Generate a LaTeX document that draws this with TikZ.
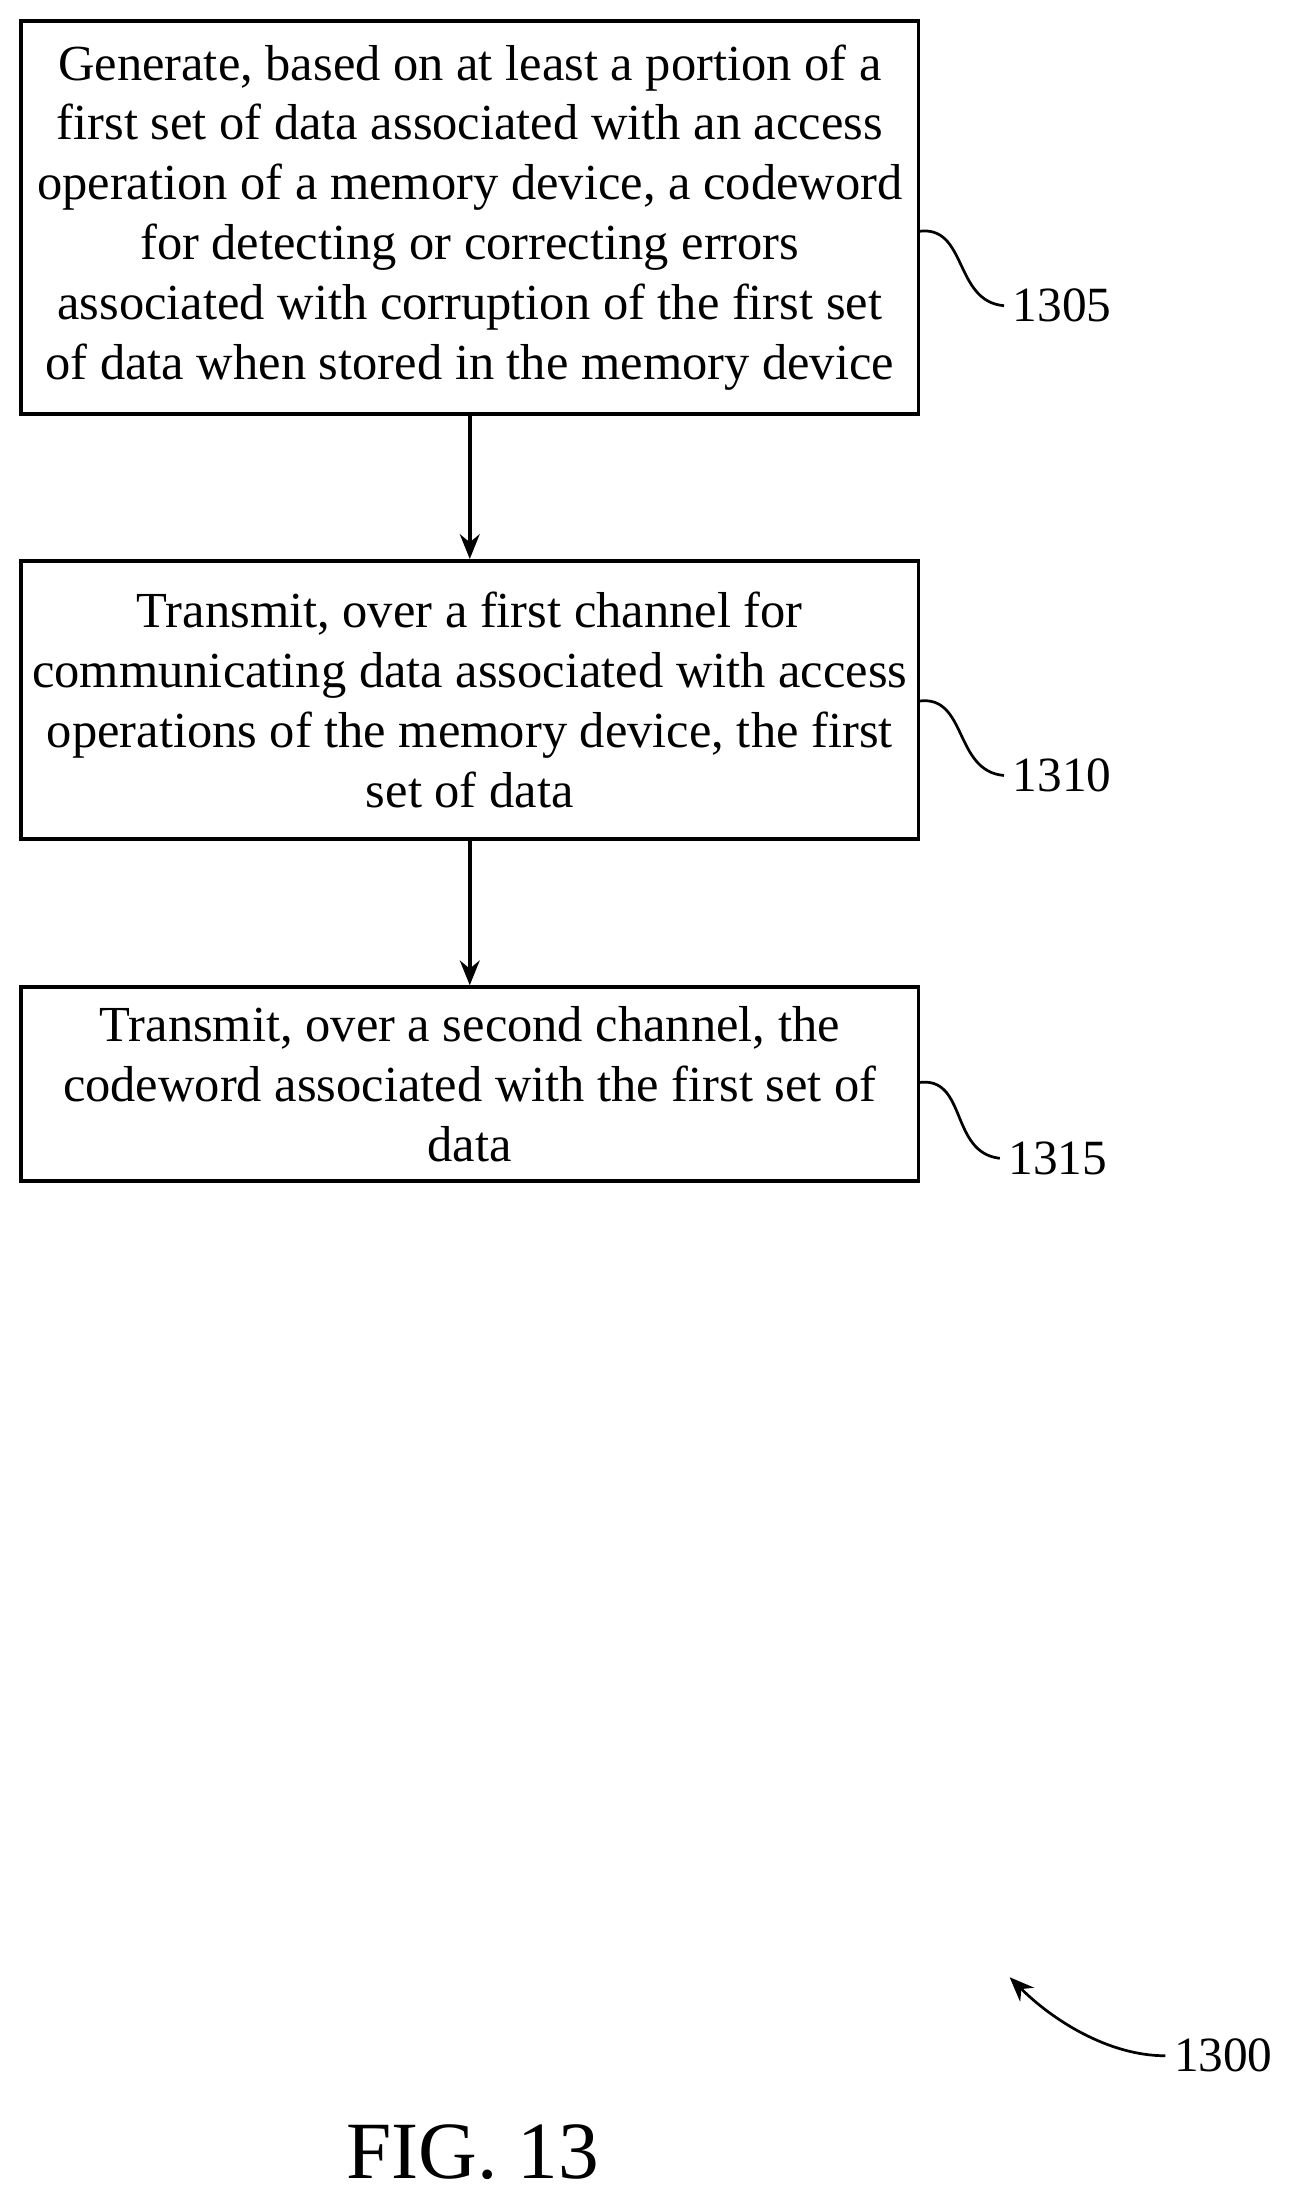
\documentclass[tikz,border=0pt]{standalone}
\usepackage{fontspec}
\setmainfont{Liberation Serif}
\usetikzlibrary{arrows.meta}
\begin{document}
\begin{tikzpicture}[x=0.02cm,y=-0.02cm,
  box/.style={draw,line width=1.6pt,inner sep=0pt},
  txt/.style={align=center,font=\fontsize{20.5}{24.3}\selectfont},
  lab/.style={font=\fontsize{20}{24}\selectfont,anchor=west},
  arr/.style={line width=1.6pt,-{Stealth[length=10pt,width=8pt]}},
  sq/.style={line width=1.1pt}]
\useasboundingbox (0,0) rectangle (938,1576);
\node[box,minimum width=640*0.02cm,minimum height=280*0.02cm] (b1) at (335,155) {};
\node[txt] (t1) at (335,155) {Generate, based on at least a portion of a\\first set of data associated with an access\\operation of a memory device, a codeword\\for detecting or correcting errors\\associated with corruption of the first set\\of data when stored in the memory device};
\node[box,minimum width=640*0.02cm,minimum height=198*0.02cm] (b2) at (335,499) {};
\node[txt] (t2) at (335,499) {Transmit, over a first channel for\\communicating data associated with access\\operations of the memory device, the first\\set of data};
\node[box,minimum width=640*0.02cm,minimum height=138*0.02cm] (b3) at (335,773) {};
\node[txt] (t3) at (335,773) {Transmit, over a second channel, the\\codeword associated with the first set of\\data};
\draw[arr] (b1.south) -- (b2.north);
\draw[arr] (b2.south) -- (b3.north);
\node[lab] (l1) at (716,218) {1305};
\node[lab] (l2) at (716,553) {1310};
\node[lab] (l3) at (713,826) {1315};
\node[lab] (l4) at (831,1466) {1300};
\draw[sq] (655,165) .. controls (690,160) and (680,215) .. (l1.west);
\draw[sq] (655,500) .. controls (690,495) and (680,550) .. (l2.west);
\draw[sq] (655,772) .. controls (690,767) and (677,822) .. (l3.west);
\coordinate (a0) at (720,1410);
\draw[line width=1.1pt,{Stealth[length=10pt,width=8pt]}-] (a0) .. controls (750,1440) and (790,1466) .. (l4.west);
\node[font=\fontsize{33}{36}\selectfont] (fig) at (337,1535) {FIG. 13};
\end{tikzpicture}
\end{document}
